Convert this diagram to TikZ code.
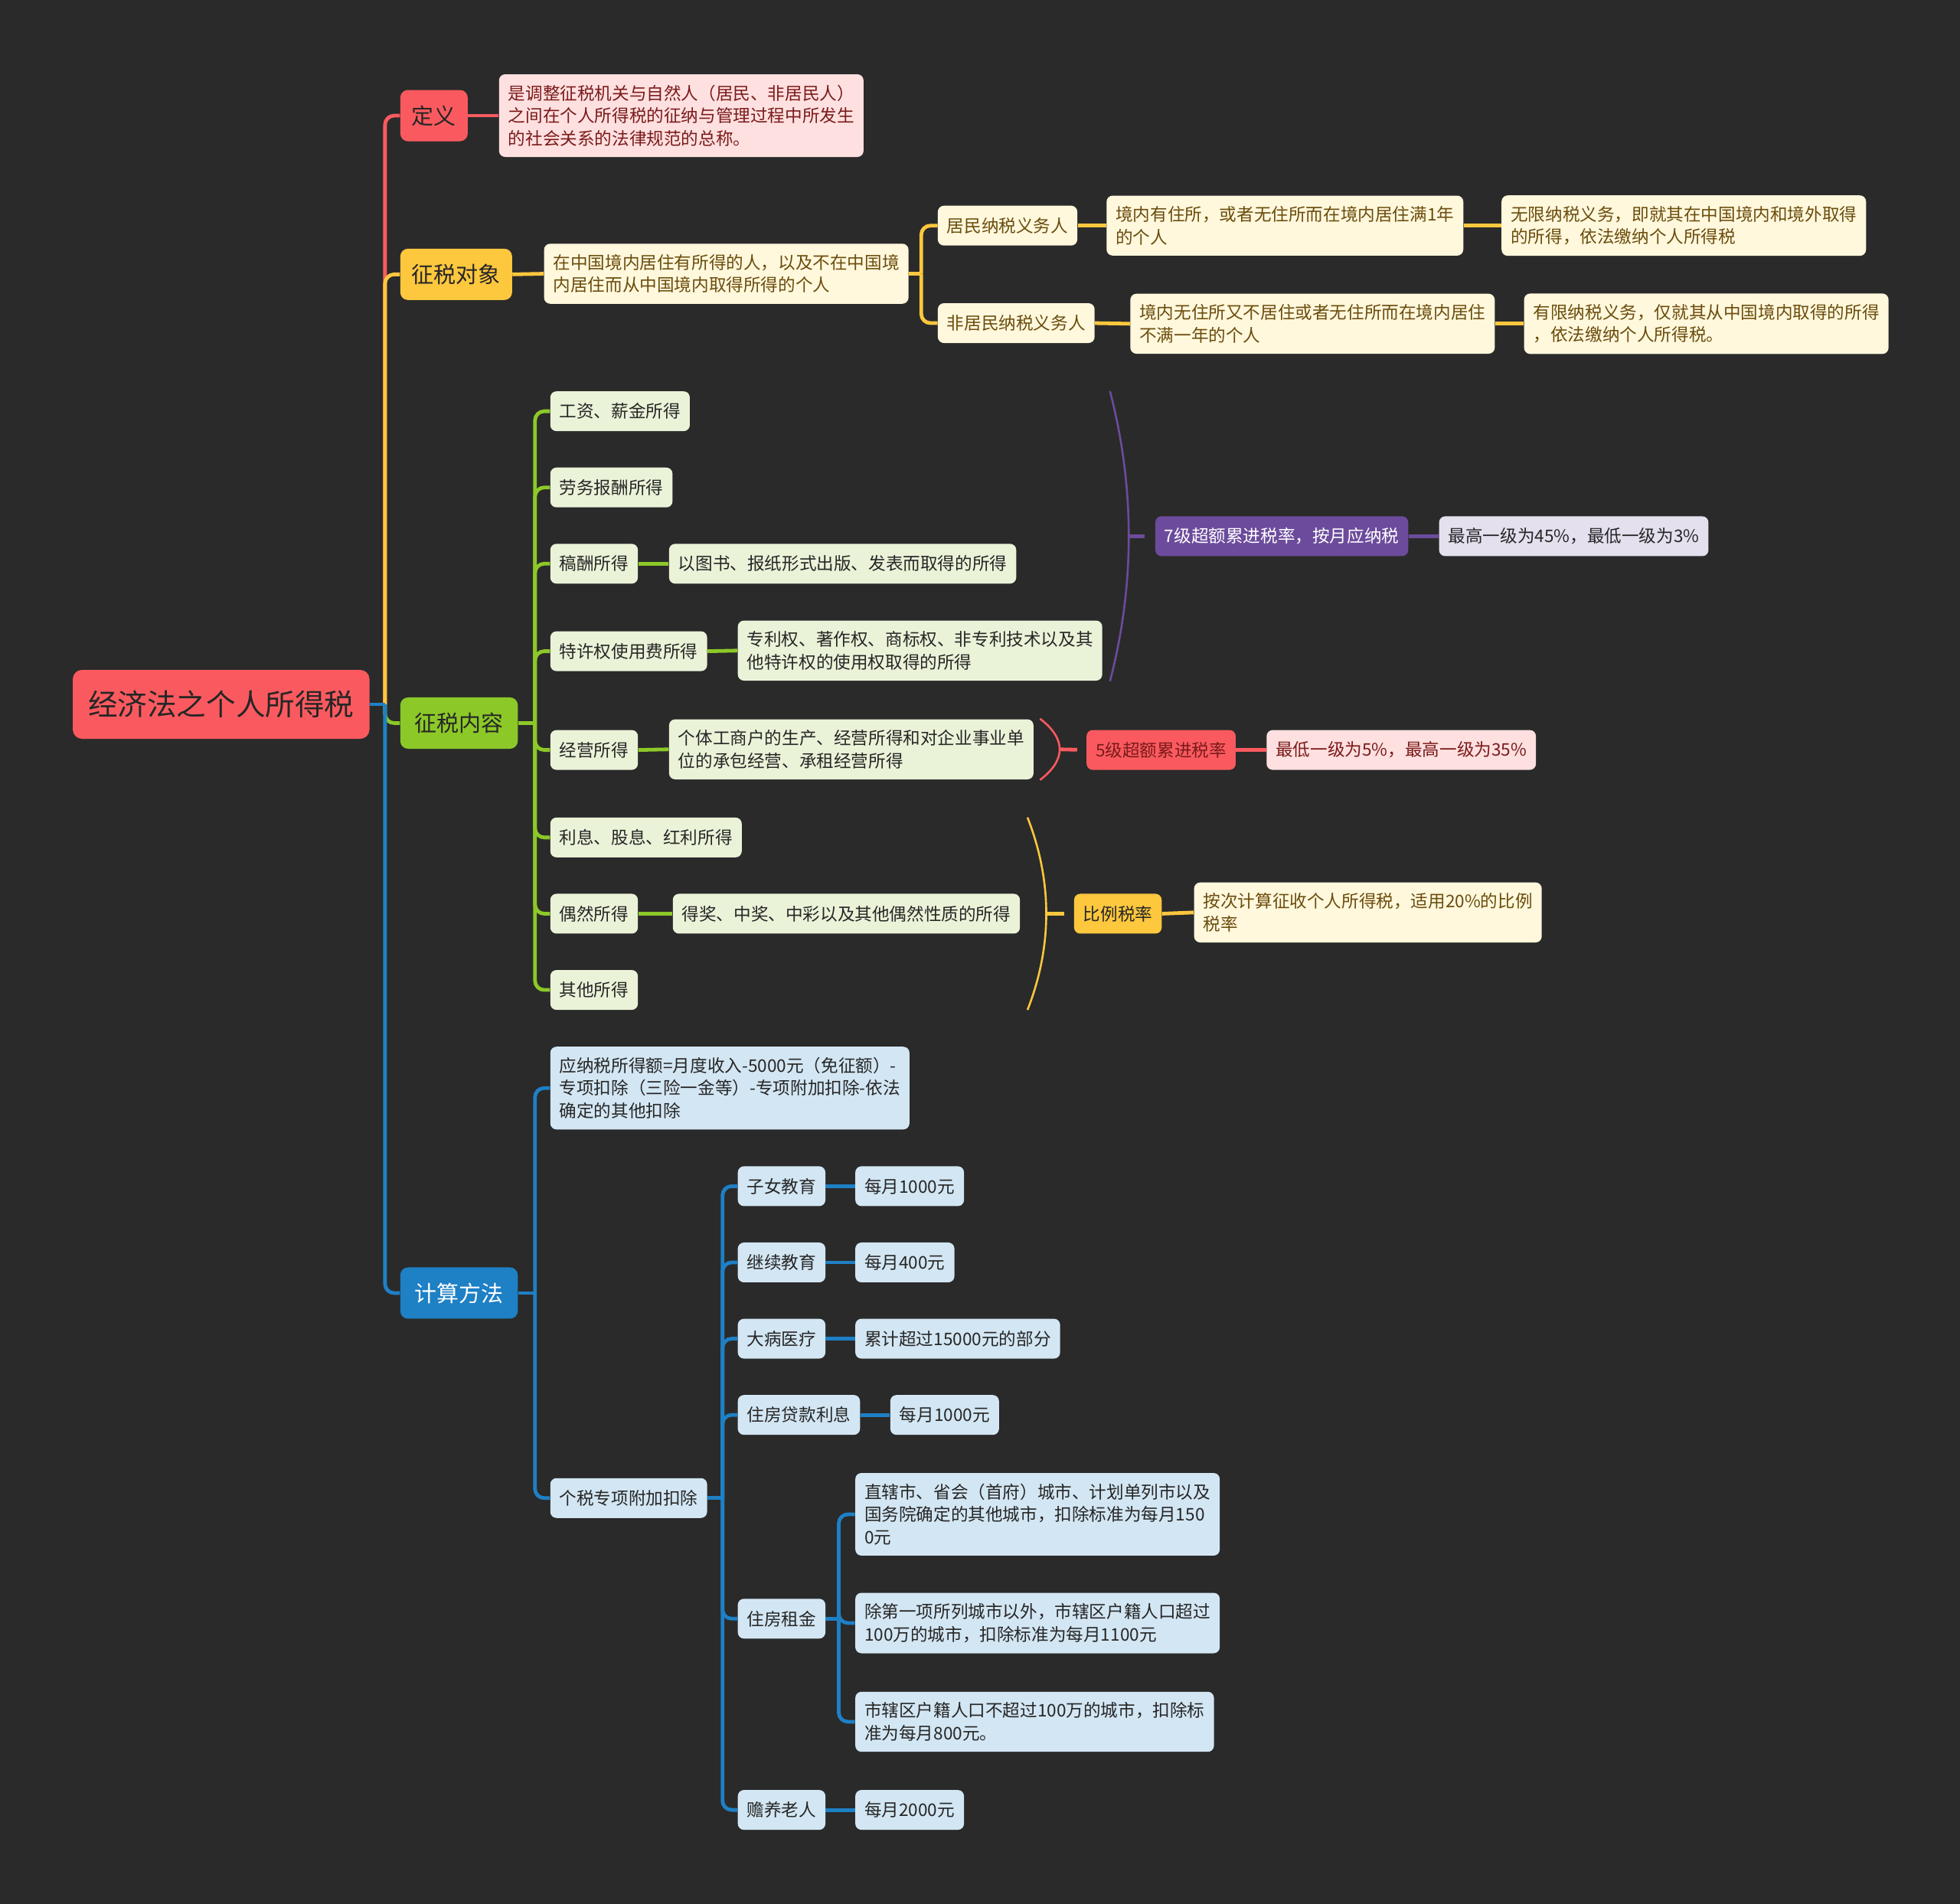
\documentclass[tikz,border=0pt]{standalone}
\usepackage{fontspec}
\newfontfamily\cjk{Noto Sans CJK SC}
\definecolor{bgc}{HTML}{2A2A2A}
\definecolor{redc}{HTML}{FA5A5F}
\definecolor{redl}{HTML}{FFE0E0}
\definecolor{redt}{HTML}{7A1A1A}
\definecolor{yelc}{HTML}{FDC73E}
\definecolor{yell}{HTML}{FFF8DD}
\definecolor{yelt}{HTML}{6B4C0C}
\definecolor{grnc}{HTML}{8CC928}
\definecolor{grnl}{HTML}{EAF3D8}
\definecolor{purc}{HTML}{6C4B9C}
\definecolor{purl}{HTML}{E4E0EE}
\definecolor{bluc}{HTML}{1E80C5}
\definecolor{blul}{HTML}{D3E6F3}
\definecolor{inkc}{HTML}{262626}
\tikzset{
  box/.style={rounded corners=4pt, inner xsep=6pt, inner ysep=7pt, minimum height=26pt,
    align=left, anchor=west, text=inkc, font=\cjk\fontsize{11.3}{14.7}\selectfont},
  topic/.style={rounded corners=5pt, inner xsep=7.5pt, minimum height=33.5pt,
    anchor=west, text=inkc, font=\cjk\fontsize{14.5}{17}\selectfont},
  link/.style={line width=2.4pt, rounded corners=6pt},
  brace/.style={line width=1.3pt},
}
\begin{document}
\begin{tikzpicture}[x=0.8163pt, y=-0.8163pt]

\fill[bgc] (0,0) rectangle (1568,1523);
\useasboundingbox (0,0) rectangle (1568,1523);

\node[rounded corners=6pt, fill=redc, text=inkc, inner xsep=10pt, minimum height=45pt, anchor=west,
  font=\cjk\fontsize{19.3}{22}\selectfont] (root) at (58,563.5) {经济法之个人所得税};
\coordinate (rj) at (308,563.5);

\node[topic, fill=redc] (dy) at (320,92.5) {定义};
\node[box, fill=redl, text=redt] (dyt) at (399,92.5) {是调整征税机关与自然人（居民、非居民人）\\之间在个人所得税的征纳与管理过程中所发生\\的社会关系的法律规范的总称。};

\node[topic, fill=yelc] (zs) at (320,219.5) {征税对象};
\node[box, fill=yell, text=yelt] (zst) at (435,219) {在中国境内居住有所得的人，以及不在中国境\\内居住而从中国境内取得所得的个人};
\coordinate (zsj) at (737,219);
\node[box, fill=yell, text=yelt] (jm) at (750,180.5) {居民纳税义务人};
\node[box, fill=yell, text=yelt] (jmt) at (885,180.5) {境内有住所，或者无住所而在境内居住满1年\\的个人};
\node[box, fill=yell, text=yelt] (jmr) at (1201,180.5) {无限纳税义务，即就其在中国境内和境外取得\\的所得，依法缴纳个人所得税};
\node[box, fill=yell, text=yelt] (fjm) at (750,258.5) {非居民纳税义务人};
\node[box, fill=yell, text=yelt] (fjmt) at (904,259) {境内无住所又不居住或者无住所而在境内居住\\不满一年的个人};
\node[box, fill=yell, text=yelt] (fjmr) at (1219,259) {有限纳税义务，仅就其从中国境内取得的所得\\，依法缴纳个人所得税。};

\node[topic, fill=grnc, minimum width=76.7pt] (nr) at (320,578.5) {征税内容};
\coordinate (nrj) at (428,578.5);
\node[box, fill=grnl] (g1) at (440,329) {工资、薪金所得};
\node[box, fill=grnl] (g2) at (440,390) {劳务报酬所得};
\node[box, fill=grnl] (g3) at (440,451) {稿酬所得};
\node[box, fill=grnl] (g3t) at (535,451) {以图书、报纸形式出版、发表而取得的所得};
\node[box, fill=grnl] (g4) at (440,521) {特许权使用费所得};
\node[box, fill=grnl] (g4t) at (590,520.5) {专利权、著作权、商标权、非专利技术以及其\\他特许权的使用权取得的所得};
\node[box, fill=grnl] (g5) at (440,600) {经营所得};
\node[box, fill=grnl] (g5t) at (535,599.5) {个体工商户的生产、经营所得和对企业事业单\\位的承包经营、承租经营所得};
\node[box, fill=grnl] (g6) at (440,670) {利息、股息、红利所得};
\node[box, fill=grnl] (g7) at (440,731) {偶然所得};
\node[box, fill=grnl] (g7t) at (538,731) {得奖、中奖、中彩以及其他偶然性质的所得};
\node[box, fill=grnl] (g8) at (440,792) {其他所得};

\coordinate (pb1) at (888,313);
\coordinate (pb2) at (888,545);
\coordinate (pbm) at (903,429);
\node[box, fill=purc, text=white] (sj) at (924,429) {7级超额累进税率，按月应纳税};
\node[box, fill=purl] (sjt) at (1151,429) {最高一级为45\%，最低一级为3\%};

\coordinate (rb1) at (832,575);
\coordinate (rb2) at (832,624);
\coordinate (rbm) at (848,599.5);
\node[box, fill=redc, text=redt] (wj) at (869,600) {5级超额累进税率};
\node[box, fill=redl, text=redt] (wjt) at (1013,600) {最低一级为5\%，最高一级为35\%};

\coordinate (yb1) at (822,654);
\coordinate (yb2) at (822,808);
\coordinate (ybm) at (837,731);
\node[box, fill=yelc] (bl) at (859,731) {比例税率};
\node[box, fill=yell, text=yelt] (blt) at (955,730) {按次计算征收个人所得税，适用20\%的比例\\税率};

\node[topic, fill=bluc, text=white, minimum width=76.7pt] (js) at (320,1034.5) {计算方法};
\coordinate (jsj) at (428,1034.5);
\node[box, fill=blul] (b1) at (440,870.5) {应纳税所得额=月度收入-5000元（免征额）-\\专项扣除（三险一金等）-专项附加扣除-依法\\确定的其他扣除};
\node[box, fill=blul] (b2) at (440,1198.5) {个税专项附加扣除};
\coordinate (b2j) at (578,1198.5);
\node[box, fill=blul] (c1) at (590,949) {子女教育};
\node[box, fill=blul] (c1t) at (684,949) {每月1000元};
\node[box, fill=blul] (c2) at (590,1010) {继续教育};
\node[box, fill=blul] (c2t) at (684,1010) {每月400元};
\node[box, fill=blul] (c3) at (590,1071) {大病医疗};
\node[box, fill=blul] (c3t) at (684,1071) {累计超过15000元的部分};
\node[box, fill=blul] (c4) at (590,1132) {住房贷款利息};
\node[box, fill=blul] (c4t) at (712,1132) {每月1000元};
\node[box, fill=blul] (c5) at (590,1295) {住房租金};
\coordinate (c5j) at (671,1295);
\node[box, fill=blul] (c5a) at (684,1211.5) {直辖市、省会（首府）城市、计划单列市以及\\国务院确定的其他城市，扣除标准为每月150\\0元};
\node[box, fill=blul] (c5b) at (684,1298.5) {除第一项所列城市以外，市辖区户籍人口超过\\100万的城市，扣除标准为每月1100元};
\node[box, fill=blul] (c5c) at (684,1377.5) {市辖区户籍人口不超过100万的城市，扣除标\\准为每月800元。};
\node[box, fill=blul] (c6) at (590,1448) {赡养老人};
\node[box, fill=blul] (c6t) at (684,1448) {每月2000元};

\draw[link, redc] (rj) |- (dy.west);
\draw[link, yelc] (rj) |- (zs.west);
\draw[link, grnc] (rj) |- (nr.west);
\draw[link, bluc] (rj) |- (js.west);
\draw[link, bluc] (root.east) -- (rj);

\draw[link, redc] (dy.east) -- (dyt.west);
\draw[link, yelc] (zs.east) -- (zst.west);
\draw[link, yelc] (zst.east) -- (zsj);
\draw[link, yelc] (zsj) |- (jm.west);
\draw[link, yelc] (zsj) |- (fjm.west);
\draw[link, yelc] (jm.east) -- (jmt.west);
\draw[link, yelc] (jmt.east) -- (jmr.west);
\draw[link, yelc] (fjm.east) -- (fjmt.west);
\draw[link, yelc] (fjmt.east) -- (fjmr.west);

\draw[link, grnc] (nr.east) -- (nrj);
\foreach \g in {g1,g2,g3,g4,g5,g6,g7,g8}
  \draw[link, grnc] (nrj) |- (\g.west);
\draw[link, grnc] (g3.east) -- (g3t.west);
\draw[link, grnc] (g4.east) -- (g4t.west);
\draw[link, grnc] (g5.east) -- (g5t.west);
\draw[link, grnc] (g7.east) -- (g7t.west);

\draw[brace, purc] (pb1) .. controls (908,390) and (908,468) .. (pb2);
\draw[link, purc, shorten >=7pt] (pbm) -- (sj.west);
\draw[link, purc] (sj.east) -- (sjt.west);
\draw[brace, redc] (rb1) .. controls (853,591) and (853,608) .. (rb2);
\draw[link, redc, shorten >=6pt] (rbm) -- (wj.west);
\draw[link, redc] (wj.east) -- (wjt.west);
\draw[brace, yelc] (yb1) .. controls (842,705) and (842,757) .. (yb2);
\draw[link, yelc, shorten >=6pt] (ybm) -- (bl.west);
\draw[link, yelc] (bl.east) -- (blt.west);

\draw[link, bluc] (js.east) -- (jsj);
\draw[link, bluc] (jsj) |- (b1.west);
\draw[link, bluc] (jsj) |- (b2.west);
\draw[link, bluc] (b2.east) -- (b2j);
\foreach \c in {c1,c2,c3,c4,c5,c6}
  \draw[link, bluc] (b2j) |- (\c.west);
\foreach \c in {c1,c2,c3,c4,c6}
  \draw[link, bluc] (\c.east) -- (\c t.west);
\draw[link, bluc] (c5.east) -- (c5j);
\foreach \c in {c5a,c5b,c5c}
  \draw[link, bluc] (c5j) |- (\c.west);

\end{tikzpicture}
\end{document}
